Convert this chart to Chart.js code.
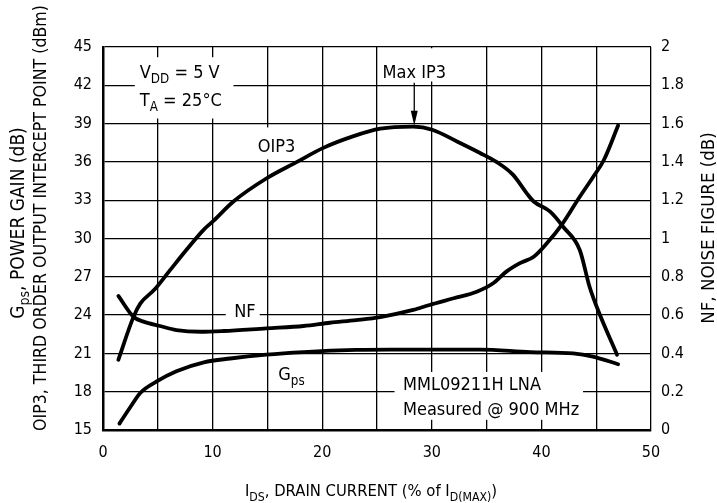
<!DOCTYPE html>
<html>
<head>
<meta charset="utf-8">
<script src="https://cdn.jsdelivr.net/npm/chart.js@4"></script>
<style>
  html, body { margin: 0; padding: 0; background: #fff; }
  #wrap { width: 717px; height: 503px; }
</style>
</head>
<body>
<div id="wrap"><canvas id="c" width="717" height="503"></canvas></div>
<script>
// ---- Data ----
const oip3X = [1.4, 2.8, 3.4, 4.7, 6.1, 7.6, 9.2, 10.1, 11.9, 14.9, 17.7, 20.1, 22.8, 25.3, 28.3, 30.1, 32.3, 34.4, 35.9, 37.4, 38.7, 39.3, 40.8, 42.0, 43.5, 44.4, 45.3, 46.9];
const oip3Y = [20.5, 23.9, 24.9, 26.0, 27.5, 29.1, 30.7, 31.4, 32.9, 34.7, 36.0, 37.1, 38.0, 38.6, 38.76, 38.5, 37.6, 36.7, 36.0, 35.0, 33.5, 32.9, 32.1, 30.9, 29.1, 26.2, 24.1, 20.9];

const nfX = [1.4, 2.8, 3.7, 5.2, 6.7, 8.9, 11.0, 14.9, 18.3, 20.7, 23.1, 25.3, 28.3, 29.8, 32.0, 34.1, 35.6, 36.8, 38.0, 39.3, 40.5, 41.9, 43.5, 44.7, 45.7, 47.0];
const nfY = [0.70, 0.59, 0.566, 0.543, 0.522, 0.513, 0.517, 0.531, 0.543, 0.56, 0.574, 0.59, 0.627, 0.653, 0.688, 0.722, 0.766, 0.827, 0.87, 0.905, 0.975, 1.075, 1.218, 1.32, 1.41, 1.59];

const gpsX = [1.5, 2.5, 3.4, 4.9, 6.7, 9.2, 11.6, 14.9, 18.3, 23.1, 26.2, 34.4, 39.0, 42.9, 44.7, 47.0];
const gpsY = [15.5, 16.8, 17.9, 18.8, 19.6, 20.3, 20.6, 20.9, 21.1, 21.27, 21.3, 21.3, 21.1, 21.0, 20.75, 20.15];

const xGrid = [0, 5, 10, 15, 20, 25, 30, 35, 40, 45, 50];
const xTickLabels = [0, 10, 20, 30, 40, 50];
const leftTicks = [15, 18, 21, 24, 27, 30, 33, 36, 39, 42, 45];
const rightTicks = [0, 0.2, 0.4, 0.6, 0.8, 1, 1.2, 1.4, 1.6, 1.8, 2];

// ---- Styling ----
const FONT = "'Liberation Sans Narrow', 'Arial Narrow', 'DejaVu Sans Condensed', 'Liberation Sans', sans-serif";
const pts = (xs, ys) => xs.map((x, i) => ({ x: x, y: ys[i] }));

function richText(ctx, parts, x, y, size, align) {
  // parts: [text, isSub]
  const widths = parts.map(p => {
    ctx.font = (p[1] ? size * 0.74 : size) + 'px ' + FONT;
    return ctx.measureText(p[0]).width;
  });
  const total = widths.reduce((a, b) => a + b, 0);
  let cx = align === 'center' ? x - total / 2 : (align === 'right' ? x - total : x);
  ctx.textAlign = 'left';
  ctx.textBaseline = 'alphabetic';
  parts.forEach((p, i) => {
    ctx.font = (p[1] ? size * 0.74 : size) + 'px ' + FONT;
    ctx.fillText(p[0], cx, p[1] ? y + size * 0.28 : y);
    cx += widths[i];
  });
}

const decor = {
  id: 'decor',
  beforeDatasetsDraw(chart) {
    const ctx = chart.ctx;
    const xs = chart.scales.x, ys = chart.scales.y;
    const X = v => xs.getPixelForValue(v), Y = v => ys.getPixelForValue(v);
    ctx.save();
    ctx.fillStyle = '#fff';
    // white label backgrounds (data coords)
    ctx.fillRect(X(2.9), Y(44.2), X(11.9) - X(2.9), Y(39.4) - Y(44.2));
    ctx.fillRect(X(13.6), Y(38.7), X(18.4) - X(13.6), Y(36.2) - Y(38.7));
    ctx.fillRect(X(25.3), Y(44.9), X(31.8) - X(25.3), Y(42.3) - Y(44.9));
    ctx.fillRect(X(11.2), Y(25.0), X(14.3) - X(11.2), Y(23.3) - Y(25.0));
    ctx.fillRect(X(26.6), Y(19.55), X(43.8) - X(26.6), Y(15.8) - Y(19.55));
    ctx.fillStyle = '#000';
    const S = 18;
    richText(ctx, [['V', 0], ['DD', 1], [' = 5 V', 0]], X(7.0), Y(42.6), S, 'center');
    richText(ctx, [['T', 0], ['A', 1], [' = 25°C', 0]], X(7.1), Y(40.4), S, 'center');
    richText(ctx, [['OIP3', 0]], X(15.84), Y(36.8), S, 'center');
    richText(ctx, [['Max IP3', 0]], X(28.4), Y(42.55), S, 'center');
    richText(ctx, [['NF', 0]], X(12.95), Y(23.85), S, 'center');
    richText(ctx, [['G', 0], ['ps', 1]], X(17.2), Y(18.9), S, 'center');
    richText(ctx, [['MML09211H LNA', 0]], X(27.37), Y(18.14), S, 'left');
    richText(ctx, [['Measured @ 900 MHz', 0]], X(27.37), Y(16.18), S, 'left');
    // arrow to max IP3
    const ax = X(28.4);
    ctx.strokeStyle = '#000';
    ctx.lineWidth = 1.3;
    ctx.beginPath();
    ctx.moveTo(ax, Y(42.2));
    ctx.lineTo(ax, Y(39.4));
    ctx.stroke();
    ctx.beginPath();
    ctx.moveTo(ax, Y(38.85));
    ctx.lineTo(ax - 3.5, Y(40.0));
    ctx.lineTo(ax + 3.5, Y(40.0));
    ctx.closePath();
    ctx.fill();
    ctx.restore();
  },
  afterDraw(chart) {
    const ctx = chart.ctx;
    const a = chart.chartArea;
    ctx.save();
    ctx.fillStyle = '#000';
    // x title
    richText(ctx, [['I', 0], ['DS', 1], [', DRAIN CURRENT (% of I', 0], ['D(MAX)', 1], [')', 0]], (a.left + a.right) / 2 - 6, 496, 16.5, 'center');
    // left titles (rotated)
    ctx.save();
    ctx.translate(24, 223);
    ctx.rotate(-Math.PI / 2);
    richText(ctx, [['G', 0], ['ps', 1], [', POWER GAIN (dB)', 0]], 0, 0, 19, 'center');
    ctx.restore();
    ctx.save();
    ctx.translate(46, 218);
    ctx.rotate(-Math.PI / 2);
    richText(ctx, [['OIP3, THIRD ORDER OUTPUT INTERCEPT POINT (dBm)', 0]], 0, 0, 17.6, 'center');
    ctx.restore();
    // right title
    ctx.save();
    ctx.translate(714, 228);
    ctx.rotate(-Math.PI / 2);
    richText(ctx, [['NF, NOISE FIGURE (dB)', 0]], 0, 0, 18.5, 'center');
    ctx.restore();
    ctx.restore();
  }
};

const lineStyle = { borderColor: '#000', borderWidth: 3.8, pointRadius: 0, fill: false, cubicInterpolationMode: 'monotone', borderCapStyle: 'round', borderJoinStyle: 'round' };

new Chart(document.getElementById('c'), {
  type: 'line',
  data: {
    datasets: [
      Object.assign({ label: 'OIP3', data: pts(oip3X, oip3Y), yAxisID: 'y' }, lineStyle),
      Object.assign({ label: 'Gps', data: pts(gpsX, gpsY), yAxisID: 'y' }, lineStyle),
      Object.assign({ label: 'NF', data: pts(nfX, nfY), yAxisID: 'y2' }, lineStyle)
    ]
  },
  options: {
    responsive: false,
    animation: false,
    devicePixelRatio: 1,
    layout: { padding: { top: 47, left: 0, right: 0, bottom: 0 } },
    plugins: { legend: { display: false }, tooltip: { enabled: false } },
    scales: {
      x: {
        type: 'linear', min: 0, max: 50,
        afterBuildTicks: s => { s.ticks = xGrid.map(v => ({ value: v })); },
        afterFit: s => { s.height = 73; },
        grid: { color: '#000', lineWidth: 1.3, drawTicks: false },
        border: { color: '#000', width: 2.5 },
        ticks: {
          color: '#000', padding: 13, maxRotation: 0, autoSkip: false,
          font: { family: FONT, size: 16 },
          callback: v => xTickLabels.includes(v) ? String(v) : ''
        }
      },
      y: {
        type: 'linear', position: 'left', min: 15, max: 45,
        afterBuildTicks: s => { s.ticks = leftTicks.map(v => ({ value: v })); },
        afterFit: s => { s.width = 103; },
        grid: { color: '#000', lineWidth: 1.3, drawTicks: false },
        border: { color: '#000', width: 2.5 },
        ticks: { color: '#000', padding: 11, autoSkip: false, font: { family: FONT, size: 16 } }
      },
      y2: {
        type: 'linear', position: 'right', min: 0, max: 2,
        afterBuildTicks: s => { s.ticks = rightTicks.map(v => ({ value: v })); },
        afterFit: s => { s.width = 66; },
        grid: { display: false, drawTicks: false },
        border: { display: false },
        ticks: {
          color: '#000', padding: 10, autoSkip: false, font: { family: FONT, size: 16 },
          callback: v => String(Math.round(v * 10) / 10)
        }
      }
    }
  },
  plugins: [decor]
});
</script>
</body>
</html>
